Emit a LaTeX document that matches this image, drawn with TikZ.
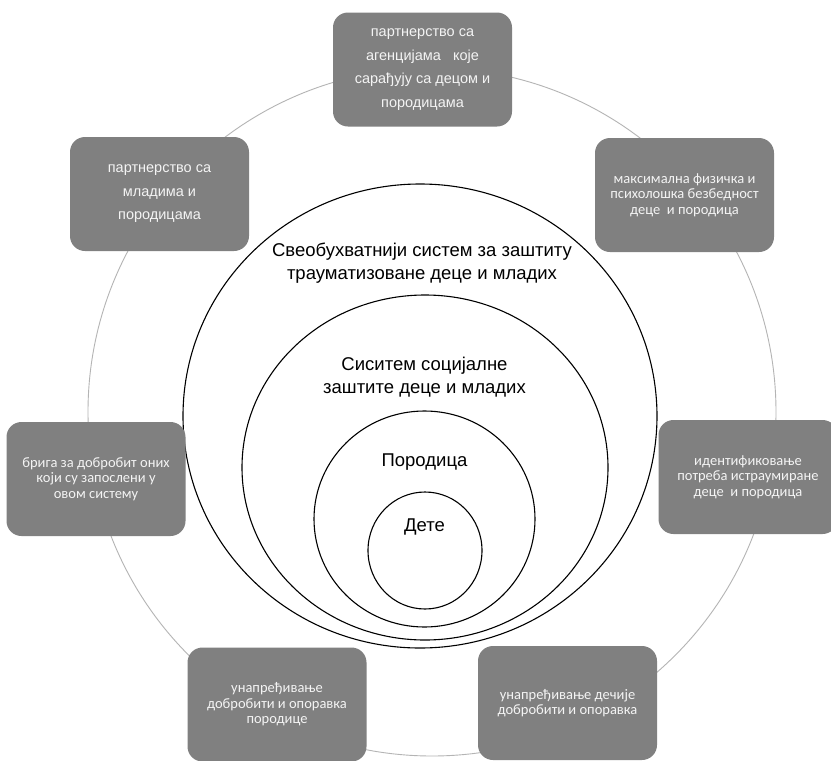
\documentclass[tikz,border=0pt]{standalone}
\usepackage{fontspec}
\setmainfont{Liberation Sans}
\newfontfamily\calibri{Carlito}
\usetikzlibrary{shapes.geometric}
\definecolor{boxgray}{HTML}{808080}
\definecolor{ringgray}{HTML}{B4B4B4}
\definecolor{boxtext}{HTML}{F4F4F4}
\begin{document}
\begin{tikzpicture}[x=1pt,y=-1pt,
  cbox/.style={rectangle, rounded corners=15pt, fill=boxgray, text=boxtext, align=center,
    inner sep=0pt, minimum width=179pt, minimum height=114pt},
  arialtxt/.style={font=\fontsize{14.5}{23.5}\selectfont},
  calitxt/.style={font=\calibri\fontsize{14.5}{15.5}\selectfont},
  ringc/.style={draw=black, line width=1.1pt, ellipse, inner sep=0pt},
  lbl/.style={align=center, text=black, font=\fontsize{18.5}{23}\selectfont}]
\useasboundingbox (0,0) rectangle (831,761);
\fill[white] (0,0) rectangle (831,761);
% cycle ring
\draw[ringgray, line width=0.9pt] (432,412) circle [radius=344];
% nested circles
\node[ringc, minimum width=474pt, minimum height=464pt] (c1) at (420,416) {};
\node[ringc, minimum width=366pt, minimum height=345pt] (c2) at (425,467.5) {};
\node[ringc, minimum width=221pt, minimum height=216pt] (c3) at (424.5,519) {};
\node[ringc, minimum width=114pt, minimum height=117pt] (c4) at (425,550.5) {};
% circle labels
\node[lbl] (l1) at (422,263.5) {Свеобухватнији систем за заштиту\\трауматизоване деце и младих};
\node[lbl] (l2) at (424.5,377) {Сиситем социјалне\\заштите деце и младих};
\node[lbl] (l3) at (424.5,462) {Породица};
\node[lbl] (l4) at (424.5,527) {Дете};
% boxes
\node[cbox, arialtxt] (b1) at (422.5,69.5) {партнерство са\\агенцијама~~~које\\сарађују са децом и\\породицама};
\node[cbox, calitxt] (b2) at (684.5,195) {максимална физичка и\\психолошка безбедност\\деце~ и породица};
\node[cbox, calitxt] (b3) at (748,477) {идентификовање\\потреба истраумиране\\деце~ и породица};
\node[cbox, calitxt] (b4) at (567.5,703) {унапређивање дечије\\добробити и опоравка};
\node[cbox, calitxt] (b5) at (277,704.5) {унапређивање\\добробити и опоравка\\породице};
\node[cbox, calitxt] (b6) at (96,479) {брига за добробит оних\\који су запослени у\\овом систему};
\node[cbox, arialtxt] (b7) at (159.5,194) {партнерство са\\младима и\\породицама};
\end{tikzpicture}
\end{document}
